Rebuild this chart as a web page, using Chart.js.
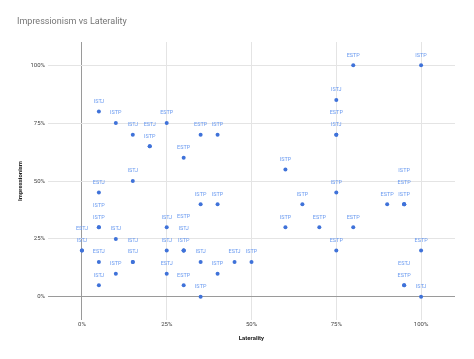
<!DOCTYPE html>
<html>
<head>
<meta charset="utf-8">
<script src="https://cdn.jsdelivr.net/npm/chart.js@4/dist/chart.umd.min.js"></script>
<style>
  html, body { margin: 0; padding: 0; background: #fff; }
  #wrap { width: 474px; height: 359px; }
</style>
</head>
<body>
<div id="wrap"><canvas id="scatterChart" width="474" height="359"></canvas></div>
<script>
// values
const laterality = [
    0.8, 1.0, 0.75, 0.75, 0.75, 0.05, 0.1, 0.15, 0.2, 0.2,
    0.25, 0.3, 0.35, 0.4, 0.15, 0.05, 0.35, 0.4, 0.6, 0.75,
    0.65, 0.9, 0.95, 0.95, 0.95, 0.05, 0.05, 0, 0, 0.1,
    0.05, 0.15, 0.15, 0.1, 0.05, 0.25, 0.3, 0.3, 0.3, 0.25,
    0.25, 0.3, 0.35, 0.35, 0.4, 0.45, 0.5, 0.6, 0.7, 0.8,
    0.75, 1.0, 0.95, 0.95, 1.0
];
const impressionism = [
    1.0, 1.0, 0.85, 0.7, 0.7, 0.8, 0.75, 0.7, 0.65, 0.65,
    0.75, 0.6, 0.7, 0.7, 0.5, 0.45, 0.4, 0.4, 0.55, 0.45,
    0.4, 0.4, 0.4, 0.4, 0.4, 0.3, 0.3, 0.2, 0.2, 0.25,
    0.15, 0.15, 0.15, 0.1, 0.05, 0.3, 0.2, 0.2, 0.2, 0.2,
    0.1, 0.05, 0.15, 0, 0.1, 0.15, 0.15, 0.3, 0.3, 0.3,
    0.2, 0.2, 0.05, 0.05, 0
];
const types = [
    'ESTP', 'ISTP', 'ISTJ', 'ISTJ', 'ESTP', 'ISTJ', 'ISTP', 'ISTJ', 'ISTP', 'ESTJ',
    'ESTP', 'ESTP', 'ESTP', 'ISTP', 'ISTJ', 'ESTJ', 'ISTP', 'ISTP', 'ISTP', 'ISTP',
    'ISTP', 'ESTP', 'ISTP', 'ESTP', 'ISTP', 'ISTP', 'ISTP', 'ISTJ', 'ESTJ', 'ISTJ',
    'ESTJ', 'ISTJ', 'ISTJ', 'ISTP', 'ISTJ', 'ISTJ', 'ISTP', 'ISTJ', 'ESTP', 'ISTJ',
    'ESTJ', 'ESTP', 'ISTJ', 'ISTP', 'ISTP', 'ESTJ', 'ISTP', 'ISTP', 'ESTP', 'ESTP',
    'ESTP', 'ESTP', 'ESTP', 'ESTJ', 'ISTJ'
];
const xTicks = [0, 0.25, 0.5, 0.75, 1];
const yTicks = [0, 0.25, 0.5, 0.75, 1];

const points = laterality.map((x, i) => ({ x: x, y: impressionism[i] }));

// Draw the type label above each point, stacking labels for repeated points
const pointLabels = {
    id: 'pointLabels',
    afterDatasetsDraw(chart) {
        const ctx = chart.ctx;
        const meta = chart.getDatasetMeta(0);
        const seen = {};
        ctx.save();
        ctx.font = '5.5px Roboto';
        ctx.fillStyle = '#6a9af0';
        ctx.textAlign = 'center';
        ctx.textBaseline = 'middle';
        meta.data.forEach((el, i) => {
            const key = laterality[i] + '_' + impressionism[i];
            const k = seen[key] || 0;
            seen[key] = k + 1;
            ctx.fillText(types[i], el.x, el.y - 10 - k * 11.7);
        });
        ctx.restore();
    }
};

const pct = v => Math.round(v * 100) + '%';

new Chart(document.getElementById('scatterChart').getContext('2d'), {
    type: 'scatter',
    data: {
        datasets: [{
            label: 'Impressionism',
            data: points,
            backgroundColor: '#3f72d9',
            borderColor: '#3f72d9',
            pointRadius: 2,
            pointBorderWidth: 0,
            pointHoverRadius: 2
        }]
    },
    options: {
        responsive: false,
        animation: false,
        layout: { padding: { left: 17, right: 19, top: 0, bottom: 0 } },
        plugins: {
            legend: { display: false },
            tooltip: { enabled: false },
            title: {
                display: true,
                text: 'Impressionism vs Laterality',
                align: 'start',
                color: '#757575',
                font: { family: 'Roboto', size: 9, weight: 'normal' },
                padding: { top: 16.6, bottom: 14.6 }
            }
        },
        scales: {
            x: {
                type: 'linear',
                min: -0.1,
                max: 1.1,
                afterBuildTicks: scale => { scale.ticks = xTicks.map(v => ({ value: v })); },
                afterFit: scale => { scale.height = 39; },
                ticks: {
                    callback: pct,
                    color: '#444',
                    font: { family: 'Roboto', size: 6 },
                    padding: 1,
                    maxRotation: 0
                },
                grid: {
                    drawTicks: false,
                    color: ctx => (ctx.tick && ctx.tick.value === 0) ? '#9a9a9a' : '#e4e4e4'
                },
                border: { display: false },
                title: {
                    display: true,
                    text: 'Laterality',
                    color: '#222',
                    font: { family: 'Roboto', size: 6, weight: 'bold' },
                    padding: { top: 0, bottom: 17.4 }
                }
            },
            y: {
                type: 'linear',
                min: -0.1,
                max: 1.1,
                afterBuildTicks: scale => { scale.ticks = yTicks.map(v => ({ value: v })); },
                afterFit: scale => { scale.width = 31; },
                ticks: {
                    callback: pct,
                    color: '#444',
                    font: { family: 'Roboto', size: 6 },
                    padding: 3
                },
                grid: {
                    drawTicks: false,
                    color: ctx => (ctx.tick && ctx.tick.value === 0) ? '#9a9a9a' : '#e4e4e4'
                },
                border: { display: false },
                title: {
                    display: true,
                    text: 'Impressionism',
                    color: '#222',
                    font: { family: 'Roboto', size: 6, weight: 'bold' },
                    padding: { top: 0, bottom: 0 }
                }
            }
        }
    },
    plugins: [pointLabels]
});
</script>
</body>
</html>
